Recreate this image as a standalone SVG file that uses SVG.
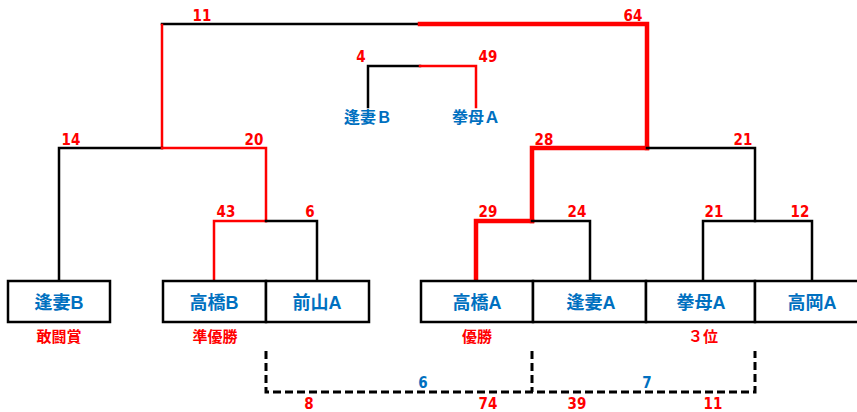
<svg xmlns="http://www.w3.org/2000/svg" width="857" height="412" viewBox="0 0 857 412">
<style>
.bk{stroke:#000;stroke-width:2.5;fill:none;stroke-linecap:square}
.rd{stroke:#f00;stroke-width:2.5;fill:none;stroke-linecap:square}
.rt{stroke:#f00;stroke-width:4.5;fill:none;stroke-linecap:square}
.ds{stroke:#000;stroke-width:3;fill:none;stroke-dasharray:8 4}
.box{stroke:#000;stroke-width:2.5;fill:#fff}
.num{font-family:"DejaVu Sans","Liberation Sans",sans-serif;font-stretch:condensed;font-weight:bold;font-size:15px;fill:#f00;text-anchor:middle}
.bn{font-family:"DejaVu Sans","Liberation Sans",sans-serif;font-stretch:condensed;font-weight:bold;font-size:15px;fill:#0070c0;text-anchor:middle}
.team{font-family:"Liberation Sans","Noto Sans CJK JP",sans-serif;font-weight:bold;font-size:18px;fill:#0070c0;text-anchor:middle}
.tc{font-family:"Liberation Sans","Noto Sans CJK JP",sans-serif;font-weight:bold;font-size:16px;fill:#0070c0;text-anchor:middle}
.prize{font-family:"Liberation Sans","Noto Sans CJK JP",sans-serif;font-weight:bold;font-size:15px;fill:#f00;text-anchor:middle}
</style>
<rect width="857" height="412" fill="#fff"/>
<g id="connectors">
  <path class="bk" d="M162,24 H420"/>
  <path class="rd" d="M162,148 V25"/>
  <path class="rt" d="M420,24 H647 V148"/>
  <path class="bk" d="M59,281 V148 H162"/>
  <path class="rd" d="M162,148 H266 V221"/>
  <path class="rt" d="M647,148 H532 V221"/>
  <path class="bk" d="M647,148 H755 V221"/>
  <path class="rd" d="M214,281 V221 H266"/>
  <path class="bk" d="M266,221 H317 V281"/>
  <path class="rt" d="M476,281 V221 H532"/>
  <path class="bk" d="M532,221 H590 V281"/>
  <path class="bk" d="M703,281 V221 H812 V281"/>
  <path class="bk" d="M368,107 V66 H420"/>
  <path class="rd" d="M420,66 H476 V107"/>
  <path class="ds" d="M266,351 V392 H755 V351"/>
  <path class="ds" d="M532,351 V392"/>
</g>
<g id="node-aizuma-b">
  <rect class="box" x="8" y="281" width="102" height="41"/>
  <text class="team" x="59" y="309">逢妻B</text>
  <text class="prize" x="59" y="342">敢闘賞</text>
</g>
<g id="node-takahashi-b">
  <rect class="box" x="163" y="281" width="103" height="41"/>
  <text class="team" x="214" y="309">高橋B</text>
  <text class="prize" x="215" y="342">準優勝</text>
</g>
<g id="node-maeyama-a">
  <rect class="box" x="266" y="281" width="103" height="41"/>
  <text class="team" x="317" y="309">前山A</text>
</g>
<g id="node-takahashi-a">
  <rect class="box" x="421" y="281" width="112" height="41"/>
  <text class="team" x="477" y="309">高橋A</text>
  <text class="prize" x="477" y="342">優勝</text>
</g>
<g id="node-aizuma-a">
  <rect class="box" x="533" y="281" width="113" height="41"/>
  <text class="team" x="591" y="309">逢妻A</text>
</g>
<g id="node-koromo-a">
  <rect class="box" x="646" y="281" width="109" height="41"/>
  <text class="team" x="701" y="309">拳母A</text>
  <text class="prize" x="703" y="342">３位</text>
</g>
<g id="node-takaoka-a">
  <rect class="box" x="755" y="281" width="104" height="41"/>
  <text class="team" x="812" y="309">高岡A</text>
</g>
<g id="node-extra-aizuma-b">
  <text class="tc" x="368" y="123">逢妻Ｂ</text>
</g>
<g id="node-extra-koromo-a">
  <text class="tc" x="476" y="123">拳母Ａ</text>
</g>
<g id="scores">
  <text class="num" x="202" y="21">11</text>
  <text class="num" x="633" y="21">64</text>
  <text class="num" x="361" y="62">4</text>
  <text class="num" x="488" y="62">49</text>
  <text class="num" x="71" y="145">14</text>
  <text class="num" x="254" y="145">20</text>
  <text class="num" x="544" y="145">28</text>
  <text class="num" x="743" y="145">21</text>
  <text class="num" x="226" y="217">43</text>
  <text class="num" x="310" y="217">6</text>
  <text class="num" x="488" y="217">29</text>
  <text class="num" x="577" y="217">24</text>
  <text class="num" x="714" y="217">21</text>
  <text class="num" x="800" y="217">12</text>
  <text class="num" x="309" y="409">8</text>
  <text class="num" x="488" y="409">74</text>
  <text class="num" x="577" y="409">39</text>
  <text class="num" x="713" y="409">11</text>
  <text class="bn" x="423" y="388">6</text>
  <text class="bn" x="647" y="388">7</text>
</g>
</svg>
